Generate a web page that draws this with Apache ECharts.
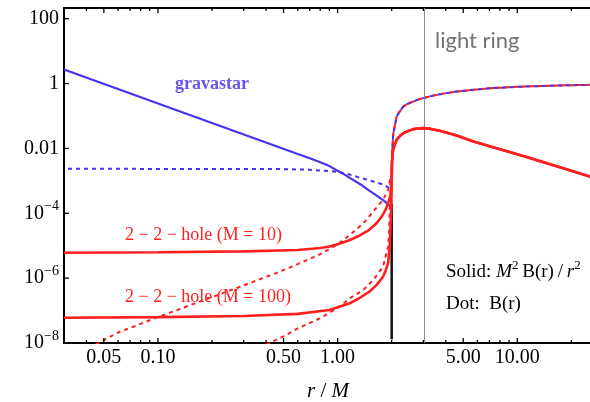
<!DOCTYPE html>
<html>
<head>
<meta charset="utf-8">
<script src="https://cdn.jsdelivr.net/npm/echarts@6/dist/echarts.min.js"></script>
<style>
html, body { margin: 0; padding: 0; background: #fff; }
#chart { width: 590px; height: 402px; }
</style>
</head>
<body>
<div id="chart"></div>
<script>
// both axes are log10; values below are in real units (r/M and B)
var xMajor = [0.05, 0.1, 0.5, 1, 5, 10];
var xMajorLabels = ['0.05', '0.10', '0.50', '1.00', '5.00', '10.00'];
var xMinor = [0.03, 0.04, 0.06, 0.07, 0.08, 0.09, 0.2, 0.3, 0.4, 0.6, 0.7, 0.8, 0.9, 2, 3, 4, 6, 7, 8, 9, 20, 30];
var yMajor = [1e-8, 1e-6, 1e-4, 1e-2, 1, 100];
var xRange = [0.03, 30];
var yRange = [1e-8, 214];

var lightRing = 3;
var horizonR = [2, 2];
var horizonB = [1.3e-8, 2e-4];

// gravastar (blue)
var gravR = [0.03, 0.6, 0.7, 0.8, 0.9, 1.0, 1.1, 1.2, 1.35, 1.5, 1.65, 1.8, 1.9, 1.99];
var gravSolid = [2.7, 6.7e-3, 4.95e-3, 3.75e-3, 2.85e-3, 2.05e-3, 1.53e-3, 1.13e-3, 7.6e-4, 5.0e-4, 3.5e-4, 2.5e-4, 1.95e-4, 1.5e-4];
var gravDotR = [0.03, 0.3, 0.5, 0.7, 0.85, 1.0, 1.15, 1.3, 1.45, 1.6, 1.75, 1.88, 1.99];
var gravDot = [2.35e-3, 2.33e-3, 2.3e-3, 2.2e-3, 2.05e-3, 1.9e-3, 1.6e-3, 1.3e-3, 1.1e-3, 9.4e-4, 8.0e-4, 6.7e-4, 5.5e-4];

// outside r = 2M, same for all objects
var outR = [2.0, 2.005, 2.02, 2.04, 2.13, 2.2, 2.32, 2.45, 2.64, 2.8, 3.0, 3.3, 3.7, 4.6, 5.7, 7.1, 10.8, 18, 25.4, 30];
var outSolid = [1.0e-3, 2.8e-3, 6.5e-3, 9.5e-3, 0.0184, 0.023, 0.0296, 0.034, 0.0394, 0.0413, 0.0424, 0.040, 0.035, 0.025, 0.0163, 0.0115, 5.8e-3, 2.45e-3, 1.36e-3, 1.0e-3];
var outDot = [1.5e-3, 4e-3, 0.011, 0.028, 0.095, 0.13, 0.195, 0.235, 0.28, 0.32, 0.355, 0.41, 0.47, 0.57, 0.64, 0.72, 0.81, 0.88, 0.915, 0.93];

// 2-2-hole M=10
var h10R = [0.03, 0.1, 0.3, 0.6, 0.8, 0.9, 1.0, 1.17, 1.3, 1.5, 1.65, 1.76, 1.85, 1.91, 1.95, 1.985, 1.997];
var h10Solid = [6.1e-6, 6.3e-6, 6.7e-6, 7.4e-6, 8.5e-6, 9.4e-6, 1.1e-5, 1.5e-5, 1.95e-5, 3.1e-5, 5.0e-5, 7.9e-5, 1.3e-4, 2.05e-4, 3e-4, 4.2e-4, 7e-4];
var h10DotR = [0.045, 0.06, 0.1, 0.2, 0.3, 0.45, 0.6, 0.8, 1.0, 1.17, 1.39, 1.58, 1.79, 1.91, 1.955];
var h10Dot = [9e-9, 2.1e-8, 6.3e-8, 2.6e-7, 6.0e-7, 1.4e-6, 2.7e-6, 5.5e-6, 1.1e-5, 2.15e-5, 4.9e-5, 1.13e-4, 2.6e-4, 5.3e-4, 1.07e-3];

// 2-2-hole M=100
var h100R = [0.03, 0.1, 0.3, 0.6, 0.9, 1.17, 1.3, 1.5, 1.65, 1.79, 1.85, 1.91, 1.95, 1.975, 1.99];
var h100Solid = [6.0e-8, 6.3e-8, 6.8e-8, 7.9e-8, 1.04e-7, 1.68e-7, 2.3e-7, 3.8e-7, 6.2e-7, 1.1e-6, 1.7e-6, 2.9e-6, 9.4e-6, 6.3e-5, 1.6e-4];
var h100DotR = [0.4, 0.5, 0.6, 0.8, 1.0, 1.17, 1.39, 1.58, 1.79, 1.91, 1.936, 1.955, 1.97];
var h100Dot = [9e-9, 1.6e-8, 2.8e-8, 5.8e-8, 1.2e-7, 2.4e-7, 4.3e-7, 8.8e-7, 2.26e-6, 9.4e-6, 3.1e-5, 2e-4, 1e-3];

var BLUE = '#4433f0';
var RED = '#ff1f1f';
var SERIF = '"Liberation Serif", "DejaVu Serif", serif';

function lg(v) { return Math.log10(v); }
function pts(rs, vs) {
	return rs.map(function (r, i) { return [lg(r), lg(vs[i])]; });
}

var myChart = echarts.init(document.getElementById('chart'));

function lineSeries(data, color, width, dashed, z, dashOffset) {
	return {
		type: 'line',
		data: data,
		symbol: 'none',
		smooth: false,
		clip: true,
		z: z,
		lineStyle: { color: color, width: width, type: dashed ? [4, 4] : 'solid', dashOffset: dashOffset || 0 }
	};
}

// tick marks drawn through the axes' own coord(), inside the frame
function tickSeries(values, len, onX) {
	return {
		type: 'custom',
		silent: true,
		clip: false,
		z: 10,
		data: values.map(function (v) { return onX ? [lg(v), lg(yRange[0])] : [lg(xRange[0]), lg(v)]; }),
		renderItem: function (params, api) {
			var st = { stroke: '#000', lineWidth: 1.3 };
			if (onX) {
				var b = api.coord([api.value(0), lg(yRange[0])]);
				var t = api.coord([api.value(0), lg(yRange[1])]);
				return { type: 'group', children: [
					{ type: 'line', shape: { x1: b[0], y1: b[1], x2: b[0], y2: b[1] - len }, style: st },
					{ type: 'line', shape: { x1: t[0], y1: t[1], x2: t[0], y2: t[1] + len }, style: st }
				] };
			}
			var l = api.coord([lg(xRange[0]), api.value(1)]);
			return { type: 'line', shape: { x1: l[0], y1: l[1], x2: l[0] + len, y2: l[1] }, style: st };
		}
	};
}

myChart.setOption({
	animation: false,
	grid: {
		left: 64, top: 8, right: -13, bottom: 59,
		outerBoundsMode: 'none', containLabel: false,
		show: true, borderColor: '#000', borderWidth: 2, backgroundColor: 'transparent'
	},
	xAxis: {
		type: 'value',
		min: lg(xRange[0]),
		max: lg(xRange[1]),
		axisLine: { show: false, onZero: false },
		axisTick: { show: false },
		axisLabel: {
			customValues: xMajor.map(lg),
			margin: 5,
			color: '#000',
			fontFamily: SERIF,
			fontSize: 20,
			formatter: function (v) {
				for (var i = 0; i < xMajor.length; i++) {
					if (Math.abs(lg(xMajor[i]) - v) < 1e-6) return xMajorLabels[i];
				}
				return '';
			}
		},
		splitLine: { show: false }
	},
	yAxis: {
		type: 'value',
		min: lg(yRange[0]),
		max: lg(yRange[1]),
		axisLine: { show: false, onZero: false },
		axisTick: { show: false },
		axisLabel: {
			customValues: yMajor.map(lg),
			margin: 5,
			color: '#000',
			formatter: function (v) {
				var e = Math.round(v);
				if (e >= -2) return '{b|' + (e === 2 ? '100' : e === 0 ? '1' : '0.01') + '}';
				return '{b|10}{s|\u2212' + (-e) + '}';
			},
			rich: {
				b: { fontFamily: SERIF, fontSize: 20, color: '#000', lineHeight: 28 },
				s: { fontFamily: SERIF, fontSize: 14, color: '#000', lineHeight: 14, verticalAlign: 'top' }
			}
		},
		splitLine: { show: false }
	},
	series: [
		lineSeries(pts(horizonR, horizonB), '#111', 2.5, false, 2),
		lineSeries(pts(gravR, gravSolid), BLUE, 2.2, false, 3),
		lineSeries(pts(h10DotR.concat(outR), h10Dot.concat(outDot)), RED, 2, true, 4),
		lineSeries(pts(h100DotR.concat(outR), h100Dot.concat(outDot)), RED, 2, true, 4),
		// blue dots sit over the red ones so the shared outer curve alternates
		lineSeries(pts(gravDotR.concat(outR), gravDot.concat(outDot)), BLUE, 2, true, 4.5, 4),
		Object.assign(lineSeries(pts(h10R.concat(outR), h10Solid.concat(outSolid)), RED, 2.6, false, 5), {
			markLine: {
				symbol: 'none',
				silent: true,
				label: { show: false },
				lineStyle: { color: '#8c8c8c', width: 1, type: 'solid' },
				data: [{ xAxis: lg(lightRing) }]
			}
		}),
		lineSeries(pts(h100R.concat(outR), h100Solid.concat(outSolid)), RED, 2.6, false, 5),
		tickSeries(xMajor, 5, true),
		tickSeries(xMinor, 3, true),
		tickSeries(yMajor, 5, false)
	],
	graphic: [
		{ type: 'text', x: 435, y: 41, style: { text: 'light ring', font: '22px Lato, "Open Sans", sans-serif', fill: '#737373', verticalAlign: 'middle', textVerticalAlign: 'middle' } },
		{ type: 'text', x: 175, y: 84, style: { text: 'gravastar', font: 'bold 18px ' + SERIF, fill: '#6655f0', verticalAlign: 'middle', textVerticalAlign: 'middle' } },
		{ type: 'text', x: 125, y: 235, style: { text: '2 \u2212 2 \u2212 hole (M = 10)', font: '18px ' + SERIF, fill: RED, verticalAlign: 'middle', textVerticalAlign: 'middle' } },
		{ type: 'text', x: 125, y: 297, style: { text: '2 \u2212 2 \u2212 hole (M = 100)', font: '18px ' + SERIF, fill: RED, verticalAlign: 'middle', textVerticalAlign: 'middle' } },
		{ type: 'text', x: 446, y: 272, style: {
			text: '{n|Solid: }{i|M}{s|2}{n|\u2009B(r)\u2009/\u2009}{i|r}{s|2}',
			verticalAlign: 'middle', textVerticalAlign: 'middle',
			rich: {
				n: { fontFamily: SERIF, fontSize: 19, fill: '#000', lineHeight: 26 },
				i: { fontFamily: SERIF, fontSize: 19, fontStyle: 'italic', fill: '#000', lineHeight: 26 },
				s: { fontFamily: SERIF, fontSize: 13, fill: '#000', lineHeight: 13, verticalAlign: 'top' }
			}
		} },
		{ type: 'text', x: 446, y: 304, style: { text: 'Dot:  B(r)', font: '19px ' + SERIF, fill: '#000', verticalAlign: 'middle', textVerticalAlign: 'middle' } },
		{ type: 'text', x: 328, y: 391, style: {
			text: '{i|r}{n| / }{i|M}',
			align: 'center', textAlign: 'center', verticalAlign: 'middle', textVerticalAlign: 'middle',
			rich: {
				n: { fontFamily: SERIF, fontSize: 21, fill: '#000' },
				i: { fontFamily: SERIF, fontSize: 21, fontStyle: 'italic', fill: '#000' }
			}
		} }
	]
});

window.addEventListener('resize', function () { myChart.resize(); });
</script>
</body>
</html>
